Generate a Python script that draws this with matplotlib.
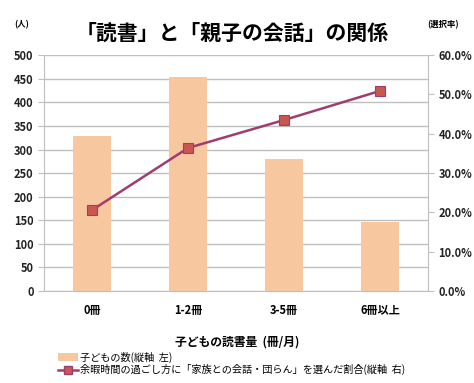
import matplotlib
matplotlib.use("Agg")
import matplotlib.pyplot as plt
from matplotlib.lines import Line2D
from matplotlib.patches import Patch

plt.rcParams['font.family'] = ['Noto Sans CJK JP', 'DejaVu Sans']

categories = ['0冊', '1-2冊', '3-5冊', '6冊以上']
children = [328, 453, 280, 146]
rate = [20.6, 36.4, 43.5, 50.9]

bar_color = '#F7C7A0'
line_color = '#9E3D6E'
marker_color = '#C8574F'
grid_color = '#BFBFBF'

fig = plt.figure(figsize=(4.74, 3.83), dpi=100)
ax = fig.add_axes([0.093, 0.240, 0.810, 0.616])
x = range(len(categories))

ax.bar(x, children, width=0.4, color=bar_color, zorder=2)
ax.set_ylim(0, 500)
ax.set_xlim(-0.5, len(categories) - 0.5)
ax.set_yticks(range(0, 501, 50))
ax.yaxis.grid(True, color=grid_color, linewidth=1, zorder=0)
ax.set_xticks(x)
ax.set_xticklabels(categories, fontsize=8, fontweight='bold')
ax.tick_params(axis='y', labelsize=8, colors=grid_color, labelcolor='#222222', length=4)
ax.tick_params(axis='x', length=0, pad=9)
for lab in ax.get_yticklabels():
    lab.set_fontweight('bold')
for s in ['top', 'right']:
    ax.spines[s].set_visible(False)
ax.spines['left'].set_color(grid_color)
ax.spines['bottom'].set_color(grid_color)

ax2 = ax.twinx()
ax2.plot(x, rate, color=line_color, linewidth=1.8, marker='s', markersize=6.5,
         markerfacecolor=marker_color, markeredgecolor=line_color, markeredgewidth=0.8, zorder=3)
ax2.set_ylim(0, 60)
ax2.set_yticks(range(0, 61, 10))
ax2.set_yticklabels([f'{v:.1f}%' for v in range(0, 61, 10)], fontsize=8, fontweight='bold')
ax2.tick_params(axis='y', colors=grid_color, labelcolor='#222222', length=4)
for s in ['top', 'left', 'bottom']:
    ax2.spines[s].set_visible(False)
ax2.spines['right'].set_color(grid_color)

fig.text(0.49, 0.912, '「読書」と「親子の会話」の関係', ha='center', va='center',
         fontsize=15, fontweight='bold')
fig.text(0.045, 0.935, '(人)', ha='center', va='center', fontsize=6, fontweight='bold')
fig.text(0.935, 0.935, '(選択率)', ha='center', va='center', fontsize=6, fontweight='bold')
fig.text(0.5, 0.108, '子どもの読書量  (冊/月)', ha='center', va='center',
         fontsize=8.5, fontweight='bold')

handles = [Patch(facecolor=bar_color, edgecolor='none'),
           Line2D([0], [0], color=line_color, linewidth=1.8, marker='s', markersize=6,
                  markerfacecolor=marker_color, markeredgecolor=line_color)]
labels = ['子どもの数(縦軸  左)', '余暇時間の過ごし方に「家族との会話・団らん」を選んだ割合(縦軸  右)']
fig.legend(handles, labels, loc='upper left', bbox_to_anchor=(0.122, 0.082),
           frameon=False, fontsize=7.3, handlelength=2.0, handletextpad=0.2,
           labelspacing=0.15, borderpad=0, borderaxespad=0)

fig.savefig('out.png', dpi=100)
